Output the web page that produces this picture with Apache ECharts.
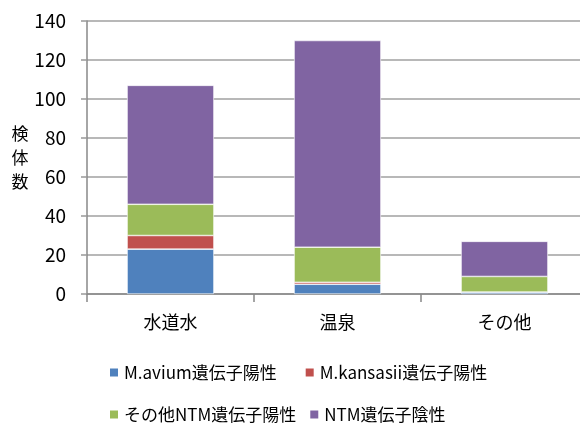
<!DOCTYPE html>
<html>
<head>
<meta charset="utf-8">
<script src="https://cdn.jsdelivr.net/npm/echarts@6/dist/echarts.min.js"></script>
<style>
  html, body { margin: 0; padding: 0; background: #fff; }
  #chart { width: 580px; height: 425px; }
</style>
</head>
<body>
<div id="chart"></div>
<script>
// Sample sources and counts per result group
const categories = ['水道水', '温泉', 'その他'];
const seriesNames = ['M.avium遺伝子陽性', 'M.kansasii遺伝子陽性', 'その他NTM遺伝子陽性', 'NTM遺伝子陰性'];
const aviumPos = [23, 5, 1];
const kansasiiPos = [7, 1, 0];
const otherNtmPos = [16, 18, 8];
const ntmNeg = [61, 106, 18];
const yTicks = { min: 0, max: 140, interval: 20 };

const colors = ['#4F81BD', '#C0504D', '#9BBB59', '#8064A2'];
const values = [aviumPos, kansasiiPos, otherNtmPos, ntmNeg];
const cjk = '"Noto Sans CJK JP", "Noto Sans", sans-serif';
const narrow = '"Liberation Sans Narrow", "Noto Sans CJK JP", sans-serif';

const chart = echarts.init(document.getElementById('chart'), null, { renderer: 'canvas' });

const legendText = { fontSize: 17, color: '#000', fontFamily: narrow };

chart.setOption({
  animation: false,
  textStyle: { fontFamily: cjk },
  // the plot runs a little past the right edge of the canvas
  grid: { left: 87, width: 501, top: 21, bottom: 131, containLabel: false, outerBoundsMode: 'none' },
  legend: [
    {
      data: seriesNames.slice(0, 2),
      left: 103, top: 359,
      itemWidth: 10, itemHeight: 10, itemGap: 27,
      icon: 'rect',
      textStyle: legendText
    },
    {
      data: seriesNames.slice(2),
      left: 103, top: 401,
      itemWidth: 10, itemHeight: 10, itemGap: 12,
      icon: 'rect',
      textStyle: legendText
    }
  ],
  xAxis: {
    type: 'category',
    data: categories,
    axisLine: { lineStyle: { color: '#888', width: 1.5 } },
    axisTick: { show: true, length: 8, lineStyle: { color: '#888', width: 1.5 } },
    axisLabel: { fontSize: 18, color: '#000', margin: 19, fontFamily: cjk }
  },
  yAxis: {
    type: 'value',
    min: yTicks.min, max: yTicks.max, interval: yTicks.interval,
    name: '検\n体\n数',
    nameLocation: 'middle',
    nameRotate: 0,
    nameGap: 57,
    nameTextStyle: { fontSize: 17, color: '#000', lineHeight: 24, fontFamily: cjk },
    axisLine: { show: true, lineStyle: { color: '#888', width: 1.5 } },
    axisTick: { show: true, length: 6, lineStyle: { color: '#999', width: 1.5 } },
    splitLine: { lineStyle: { color: '#A0A0A0', width: 1.5 } },
    axisLabel: { fontSize: 19, color: '#000', margin: 21, fontFamily: narrow }
  },
  series: values.map((v, i) => ({
    name: seriesNames[i],
    type: 'bar',
    stack: 'total',
    barWidth: '52%',
    data: v,
    itemStyle: { color: colors[i], borderColor: '#fff', borderWidth: 0.6 }
  }))
});
</script>
</body>
</html>
